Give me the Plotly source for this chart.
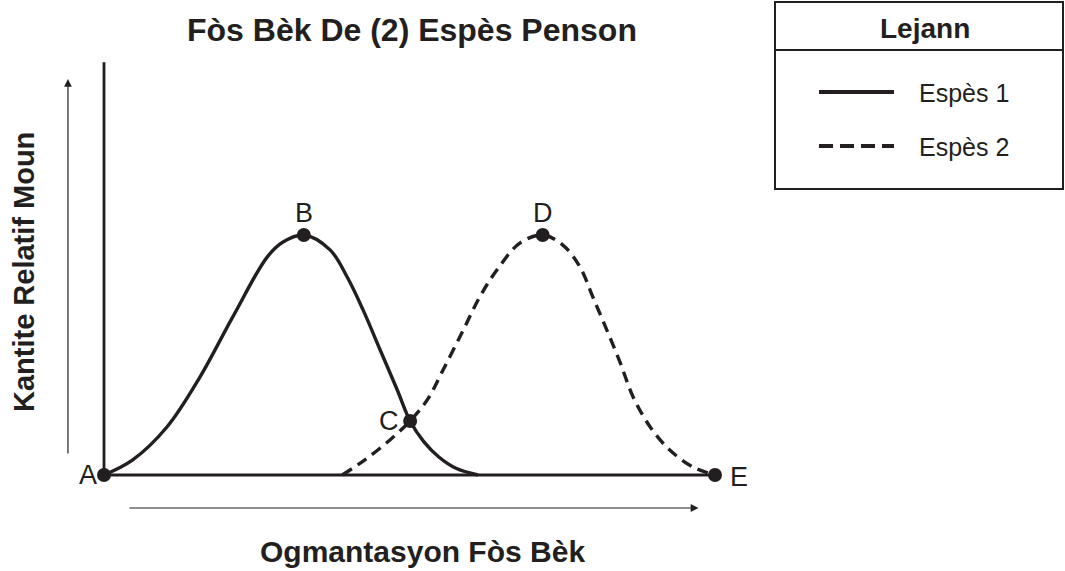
import plotly.graph_objects as go

# ---- data (x: relative increase of beak strength 0-100, y: relative number, peak=100)
species1_x = [0, 4.7, 10.3, 15.7, 21.1, 26.7, 29.3, 32.7, 37.0, 39.8, 42.4, 45.2, 48.0, 50.1, 52.3, 54.8, 57.6, 61.2]
species1_y = [0, 6.3, 20.0, 40.8, 66.0, 90.8, 97.1, 100, 93.8, 82.5, 68.8, 52.1, 35.4, 22.5, 14.0, 7.5, 2.8, 0]

species2_x = [39.0, 42.7, 46.8, 50.1, 52.9, 55.5, 58.8, 61.5, 64.3, 68.1, 71.8, 75.1, 77.9, 80.0, 82.3, 84.5, 86.6, 89.4, 92.6, 96.4, 100]
species2_y = [0, 6.3, 14.6, 22.5, 31.3, 43.8, 60.4, 74.2, 85.4, 96.7, 100, 95.8, 86.7, 74.2, 60.4, 46.7, 32.5, 20.0, 10.4, 3.3, 0]

point_labels = ["A", "B", "C", "D", "E"]
point_x = [0, 32.7, 50.1, 71.8, 100]
point_y = [0, 100, 22.5, 100, 0]

title_text = "Fòs Bèk De (2) Espès Penson"
x_title = "Ogmantasyon Fòs Bèk"
y_title = "Kantite Relatif Moun"
legend_title = "Lejann"
series_names = ["Espès 1", "Espès 2"]

INK = "#231f20"
FONT = "Liberation Sans, Arial, sans-serif"
W, H = 1065, 571
XS, YS = 6.11, 2.4   # pixels per data unit


def px(x):
    return x / W


def py(y):
    return 1 - y / H


fig = go.Figure()

# axes lines
fig.add_trace(go.Scatter(x=[0, 0, 100], y=[172, 0, 0], mode="lines",
                         line=dict(color=INK, width=2.8), showlegend=False, hoverinfo="skip"))

fig.add_trace(go.Scatter(x=species1_x, y=species1_y, mode="lines", name=series_names[0],
                         line=dict(color=INK, width=3.4, shape="spline", smoothing=1.0), showlegend=False))
fig.add_trace(go.Scatter(x=species2_x, y=species2_y, mode="lines", name=series_names[1],
                         line=dict(color=INK, width=3.4, dash="11px,7px", shape="spline", smoothing=1.0),
                         showlegend=False))

fig.add_trace(go.Scatter(x=point_x, y=point_y, mode="markers",
                         marker=dict(color=INK, size=14), showlegend=False, hoverinfo="skip"))

# point labels
label_offsets = {"A": (-16, 0, "center"), "B": (0, 9, "center"), "C": (-9, 0, "right"),
                 "D": (0, 9, "center"), "E": (13, -1, "left")}
for lab, xv, yv in zip(point_labels, point_x, point_y):
    dx, dy, anchor = label_offsets[lab]
    fig.add_annotation(x=xv + dx / XS, y=yv + dy, text=lab, showarrow=False, xanchor=anchor,
                       yanchor="middle", font=dict(family=FONT, size=27, color=INK))

# arrows
fig.add_annotation(x=-5.9, y=165, ax=-5.9, ay=8.3, xref="x", yref="y", axref="x", ayref="y",
                   showarrow=True, arrowhead=2, arrowsize=1.3, arrowwidth=1.2, arrowcolor=INK, text="")
fig.add_annotation(x=97.3, y=-13.75, ax=3.9, ay=-13.75, xref="x", yref="y", axref="x", ayref="y",
                   showarrow=True, arrowhead=2, arrowsize=1.3, arrowwidth=1.2, arrowcolor=INK, text="")


def paper_text(x, y, text, size, anchor="center", angle=0):
    fig.add_annotation(x=px(x), y=py(y), xref="paper", yref="paper", text=text,
                       showarrow=False, xanchor=anchor, yanchor="middle", textangle=angle,
                       font=dict(family=FONT, size=size, color=INK))


# titles
paper_text(412, 30, "<b>" + title_text + "</b>", 32)
paper_text(422, 551, "<b>" + x_title + "</b>", 30)
paper_text(24, 272, "<b>" + y_title + "</b>", 29, angle=-90)

# legend box
shapes = [
    dict(type="rect", xref="paper", yref="paper", x0=px(775), x1=px(1063), y0=py(2), y1=py(189),
         line=dict(color=INK, width=2)),
    dict(type="line", xref="paper", yref="paper", x0=px(775), x1=px(1063), y0=py(50), y1=py(50),
         line=dict(color=INK, width=2)),
    dict(type="line", xref="paper", yref="paper", x0=px(819), x1=px(894), y0=py(92), y1=py(92),
         line=dict(color=INK, width=4)),
    dict(type="line", xref="paper", yref="paper", x0=px(819), x1=px(894), y0=py(146), y1=py(146),
         line=dict(color=INK, width=4, dash="14px,7px")),
]
fig.update_layout(shapes=shapes)

paper_text(925, 29, "<b>" + legend_title + "</b>", 28)
paper_text(917, 93, series_names[0], 25, anchor="left")
paper_text(917, 147, series_names[1], 25, anchor="left")

fig.update_layout(
    width=W, height=H, autosize=False,
    margin=dict(l=0, r=0, t=0, b=0),
    paper_bgcolor="white", plot_bgcolor="white",
    xaxis=dict(range=[-104 / XS, (W - 104) / XS], visible=False, fixedrange=True),
    yaxis=dict(range=[(475 - H) / YS, 475 / YS], visible=False, fixedrange=True),
    showlegend=False,
)

fig.write_html("out.html", config={"displayModeBar": False},
               post_script="document.body.style.margin='0';document.body.style.overflow='hidden';")
